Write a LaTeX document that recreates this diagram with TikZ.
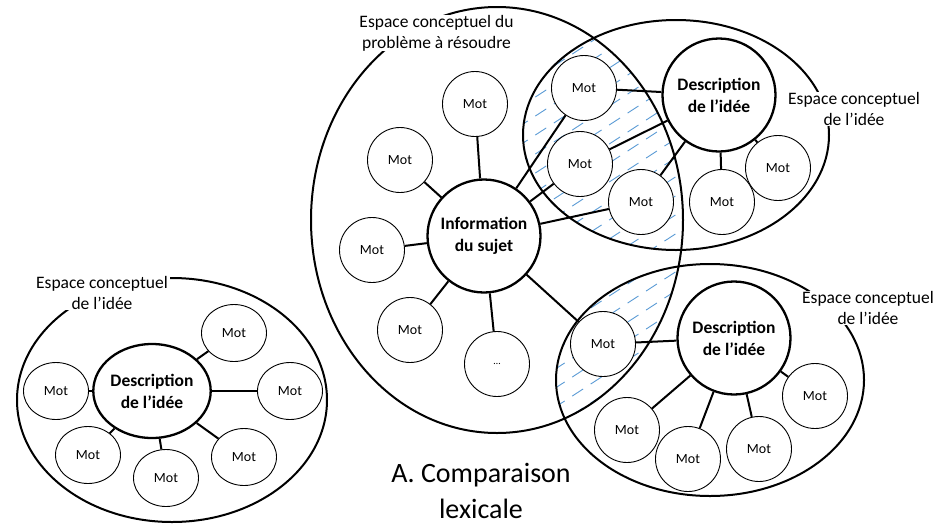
\documentclass[tikz,border=0pt]{standalone}
\usepackage{fontspec}
\setmainfont{Carlito}
\usetikzlibrary{shapes.geometric}
\definecolor{hatchblue}{RGB}{91,155,213}
\begin{document}
\begin{tikzpicture}[x=1pt,y=-1pt,
  mot/.style={circle,draw,line width=0.9pt,fill=white,minimum size=65pt,inner sep=0pt,font=\fontsize{14}{16}\selectfont},
  motell/.style={ellipse,draw,line width=0.9pt,fill=white,minimum width=65pt,minimum height=57pt,inner sep=0pt,font=\fontsize{14}{16}\selectfont},
  hub/.style={circle,draw,line width=2.3pt,fill=white,minimum size=113pt,inner sep=0pt,align=center,font=\bfseries\fontsize{17.5}{22}\selectfont},
  hubell/.style={ellipse,draw,line width=2.3pt,fill=white,minimum width=116pt,minimum height=94pt,inner sep=0pt,align=center,font=\bfseries\fontsize{17.5}{22}\selectfont},
  link/.style={line width=2pt},
  zone/.style={line width=2pt},
  lab/.style={fill=white,align=center,inner xsep=2pt,inner ysep=0pt,font=\fontsize{17.5}{21}\selectfont},
  hatchline/.style={draw=hatchblue,line width=0.9pt,dash pattern=on 13pt off 9pt}
]
\useasboundingbox (0,0) rectangle (940,528);

% hatching of the overlaps
\begin{scope}
  \clip (497,220) ellipse [x radius=186pt,y radius=213pt];
  \clip (676,135) ellipse [x radius=153pt,y radius=115pt];
  \foreach \k in {0,...,36} \draw[hatchline] (480,\k*19) -- ++(240,-156);
\end{scope}
\begin{scope}
  \clip (497,220) ellipse [x radius=186pt,y radius=213pt];
  \clip (710,380) ellipse [x radius=154pt,y radius=116pt];
  \foreach \k in {0,...,36} \draw[hatchline] (480,\k*19) -- ++(240,-156);
\end{scope}

% conceptual spaces
\draw[zone] (497,220) ellipse [x radius=186pt,y radius=213pt];
\draw[zone] (676,135) ellipse [x radius=153pt,y radius=115pt];
\draw[zone] (710,380) ellipse [x radius=154pt,y radius=116pt];
\draw[zone] (172,400) ellipse [x radius=155pt,y radius=122pt];

% labels
\node[lab] (l1) at (436.5,33) {Espace conceptuel du\\problème à résoudre};
\node[lab] (l2) at (854,109) {Espace conceptuel\\de l’idée};
\node[lab] (l3) at (868,308) {Espace conceptuel\\de l’idée};
\node[lab] (l4) at (102,293) {Espace conceptuel\\de l’idée};

% central subject
\node[hub] (info) at (484,236) {Information\\du sujet};
\node[mot] (i1) at (475,104) {Mot};
\node[mot] (i2) at (400,160) {Mot};
\node[mot] (i3) at (372,250) {Mot};
\node[mot] (i4) at (410,330) {Mot};
\node[mot,font=\fontsize{10}{12}\selectfont] (i5) at (497,364) {…};

% top-right idea
\node[hub] (d1) at (719,95) {Description\\de l’idée};
\node[mot] (a1) at (584,88) {Mot};
\node[mot] (a2) at (580,164) {Mot};
\node[mot] (a3) at (641,202) {Mot};
\node[mot] (a4) at (722,202) {Mot};
\node[mot] (a5) at (778,168) {Mot};

% bottom-right idea
\node[hub] (d2) at (734,338) {Description\\de l’idée};
\node[mot] (b1) at (603,344) {Mot};
\node[mot] (b2) at (627,430) {Mot};
\node[mot] (b3) at (688,459) {Mot};
\node[mot] (b4) at (759,449) {Mot};
\node[mot] (b5) at (815,396) {Mot};

% left idea
\node[hubell] (d3) at (152,391) {Description\\de l’idée};
\node[motell] (c1) at (234,333) {Mot};
\node[motell] (c2) at (290,391) {Mot};
\node[motell] (c3) at (244,457) {Mot};
\node[motell] (c4) at (166,478) {Mot};
\node[motell] (c5) at (88,455) {Mot};
\node[motell] (c6) at (56,391) {Mot};

% connectors
\foreach \t in {i1,i2,i3,i4,i5,a1,a2,a3,b1} \draw[link] (info) -- (\t);
\foreach \t in {a1,a2,a3,a4,a5} \draw[link] (d1) -- (\t);
\foreach \t in {b1,b2,b3,b4,b5} \draw[link] (d2) -- (\t);
\foreach \t in {c1,c2,c3,c4,c5,c6} \draw[link] (d3) -- (\t);

% caption
\node[align=center,font=\fontsize{28}{36}\selectfont] (title) at (481,491) {A. Comparaison\\lexicale};
\end{tikzpicture}
\end{document}
